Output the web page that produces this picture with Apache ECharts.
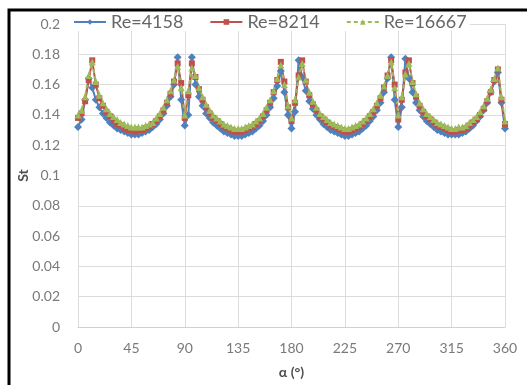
<!DOCTYPE html>
<html>
<head>
<meta charset="utf-8">
<script src="https://cdn.jsdelivr.net/npm/echarts@6/dist/echarts.min.js"></script>
<style>
  html, body { margin: 0; padding: 0; background: #fff; }
  #chart { width: 527px; height: 385px; }
</style>
</head>
<body>
<div id="chart"></div>
<script>
// angle positions (deg)
const angles = [
  0, 3, 6, 9, 12, 15, 18, 21, 24, 27, 30, 33, 36, 39, 42, 45, 48, 51, 54, 57, 60,
  63, 66, 69, 72, 75, 78, 81, 84, 87, 90, 93, 96, 99, 102, 105, 108, 111, 114, 117, 120,
  123, 126, 129, 132, 135, 138, 141, 144, 147, 150, 153, 156, 159, 162, 165, 168, 171, 174, 177, 180,
  183, 186, 189, 192, 195, 198, 201, 204, 207, 210, 213, 216, 219, 222, 225, 228, 231, 234, 237, 240,
  243, 246, 249, 252, 255, 258, 261, 264, 267, 270, 273, 276, 279, 282, 285, 288, 291, 294, 297, 300,
  303, 306, 309, 312, 315, 318, 321, 324, 327, 330, 333, 336, 339, 342, 345, 348, 351, 354, 357, 360
];

const re4158 = [
  0.132, 0.137, 0.150, 0.164, 0.158, 0.150, 0.145, 0.141, 0.138, 0.135, 0.133, 0.131, 0.130, 0.129, 0.128, 0.127,
  0.127, 0.127, 0.128, 0.129, 0.130, 0.132, 0.134, 0.137, 0.141, 0.146, 0.152, 0.160, 0.178, 0.150, 0.133,
  0.140, 0.178, 0.160, 0.152, 0.146, 0.141, 0.138, 0.135, 0.133, 0.131, 0.129, 0.128, 0.127, 0.126, 0.126,
  0.126, 0.127, 0.128, 0.129, 0.131, 0.133, 0.136, 0.140, 0.145, 0.151, 0.159, 0.169, 0.155, 0.140, 0.131,
  0.142, 0.176, 0.165, 0.156, 0.149, 0.144, 0.140, 0.137, 0.134, 0.132, 0.130, 0.129, 0.128, 0.127, 0.126,
  0.126, 0.127, 0.128, 0.129, 0.131, 0.133, 0.136, 0.139, 0.143, 0.148, 0.155, 0.164, 0.178, 0.150, 0.132,
  0.145, 0.177, 0.164, 0.155, 0.148, 0.143, 0.139, 0.136, 0.134, 0.132, 0.130, 0.129, 0.128, 0.127, 0.127,
  0.127, 0.127, 0.128, 0.129, 0.131, 0.133, 0.136, 0.139, 0.143, 0.148, 0.155, 0.162, 0.168, 0.148, 0.131
];

const re8214 = [
  0.138, 0.141, 0.149, 0.163, 0.176, 0.160, 0.151, 0.146, 0.142, 0.139, 0.136, 0.134, 0.133, 0.131, 0.130, 0.130,
  0.129, 0.130, 0.130, 0.131, 0.132, 0.134, 0.136, 0.139, 0.143, 0.148, 0.154, 0.162, 0.174, 0.161, 0.138,
  0.153, 0.174, 0.165, 0.157, 0.150, 0.145, 0.141, 0.138, 0.136, 0.134, 0.132, 0.131, 0.130, 0.129, 0.129,
  0.129, 0.130, 0.131, 0.132, 0.134, 0.136, 0.139, 0.143, 0.148, 0.155, 0.163, 0.175, 0.162, 0.145, 0.136,
  0.148, 0.166, 0.176, 0.162, 0.153, 0.147, 0.143, 0.139, 0.137, 0.135, 0.133, 0.132, 0.131, 0.130, 0.129,
  0.129, 0.130, 0.131, 0.132, 0.134, 0.136, 0.139, 0.142, 0.146, 0.151, 0.158, 0.166, 0.176, 0.160, 0.137,
  0.150, 0.168, 0.176, 0.161, 0.152, 0.146, 0.142, 0.139, 0.137, 0.135, 0.133, 0.132, 0.131, 0.130, 0.129,
  0.129, 0.130, 0.130, 0.131, 0.133, 0.135, 0.137, 0.140, 0.144, 0.149, 0.155, 0.163, 0.170, 0.150, 0.134
];

const re16667 = [
  0.140, 0.143, 0.152, 0.166, 0.175, 0.162, 0.153, 0.148, 0.144, 0.141, 0.139, 0.137, 0.135, 0.134, 0.133, 0.132,
  0.132, 0.132, 0.132, 0.133, 0.134, 0.135, 0.138, 0.141, 0.145, 0.150, 0.156, 0.163, 0.172, 0.158, 0.140,
  0.156, 0.171, 0.166, 0.158, 0.152, 0.147, 0.143, 0.140, 0.138, 0.136, 0.134, 0.133, 0.132, 0.131, 0.131,
  0.131, 0.132, 0.133, 0.134, 0.136, 0.138, 0.141, 0.145, 0.150, 0.156, 0.164, 0.173, 0.160, 0.146, 0.138,
  0.150, 0.165, 0.174, 0.163, 0.155, 0.149, 0.145, 0.141, 0.139, 0.137, 0.135, 0.134, 0.133, 0.132, 0.131,
  0.131, 0.132, 0.133, 0.134, 0.136, 0.138, 0.141, 0.144, 0.148, 0.153, 0.159, 0.166, 0.175, 0.158, 0.140,
  0.152, 0.167, 0.174, 0.162, 0.154, 0.148, 0.144, 0.141, 0.139, 0.137, 0.135, 0.134, 0.133, 0.132, 0.131,
  0.131, 0.132, 0.132, 0.133, 0.135, 0.137, 0.139, 0.142, 0.146, 0.151, 0.157, 0.164, 0.171, 0.152, 0.136
];

const seriesNames = ['Re=4158', 'Re=8214', 'Re=16667'];
const xTicks = [0, 45, 90, 135, 180, 225, 270, 315, 360];
const yTicks = [0, 0.02, 0.04, 0.06, 0.08, 0.1, 0.12, 0.14, 0.16, 0.18, 0.2];

const font = 'Lato, "Open Sans", sans-serif';
const pairs = vals => angles.map((a, i) => [a, vals[i]]);

var myChart = echarts.init(document.getElementById('chart'));
myChart.setOption({
  animation: false,
  backgroundColor: '#fff',
  textStyle: { fontFamily: font },
  grid: { left: 78, right: 22, top: 24, bottom: 58 },
  graphic: [{
    type: 'polyline',
    shape: { points: [[9, 390], [9, 10], [530, 10]] },
    style: { stroke: '#000', lineWidth: 3, fill: null }
  }],
  legend: {
    left: 70,
    top: 13,
    itemWidth: 32,
    itemHeight: 7,
    itemGap: 26,
    padding: [0, 3],
    backgroundColor: '#fff',
    textStyle: { fontSize: 18, color: '#666', fontFamily: font }
  },
  xAxis: {
    type: 'value',
    min: xTicks[0],
    max: xTicks[xTicks.length - 1],
    interval: 45,
    name: 'α (°)',
    nameLocation: 'middle',
    nameGap: 38,
    nameMoveOverlap: false,
    nameTextStyle: { fontSize: 14, fontWeight: 'bold', color: '#505050' },
    axisLine: { show: true, lineStyle: { color: '#d0d0d0' } },
    axisTick: { show: false },
    axisLabel: { fontSize: 14, color: '#7a7a7a', margin: 14 },
    splitLine: { show: true, lineStyle: { color: '#dcdcdc' } }
  },
  yAxis: {
    type: 'value',
    min: yTicks[0],
    max: yTicks[yTicks.length - 1],
    interval: 0.02,
    name: 'St',
    nameLocation: 'middle',
    nameGap: 48,
    nameMoveOverlap: false,
    nameTextStyle: { fontSize: 14, fontWeight: 'bold', color: '#505050' },
    axisLine: { show: false },
    axisTick: { show: false },
    axisLabel: { fontSize: 14, color: '#7a7a7a', margin: 18 },
    splitLine: { show: true, lineStyle: { color: '#dcdcdc' } }
  },
  series: [
    {
      name: seriesNames[0], type: 'line', data: pairs(re4158),
      symbol: 'diamond', symbolSize: 8, color: '#4F81BD',
      lineStyle: { width: 2 }
    },
    {
      name: seriesNames[1], type: 'line', data: pairs(re8214),
      symbol: 'rect', symbolSize: 6, color: '#C0504D',
      lineStyle: { width: 2 }
    },
    {
      name: seriesNames[2], type: 'line', data: pairs(re16667),
      symbol: 'triangle', symbolSize: 7, color: '#9BBB59',
      lineStyle: { width: 2, type: [4, 3] }
    }
  ]
});
</script>
</body>
</html>
